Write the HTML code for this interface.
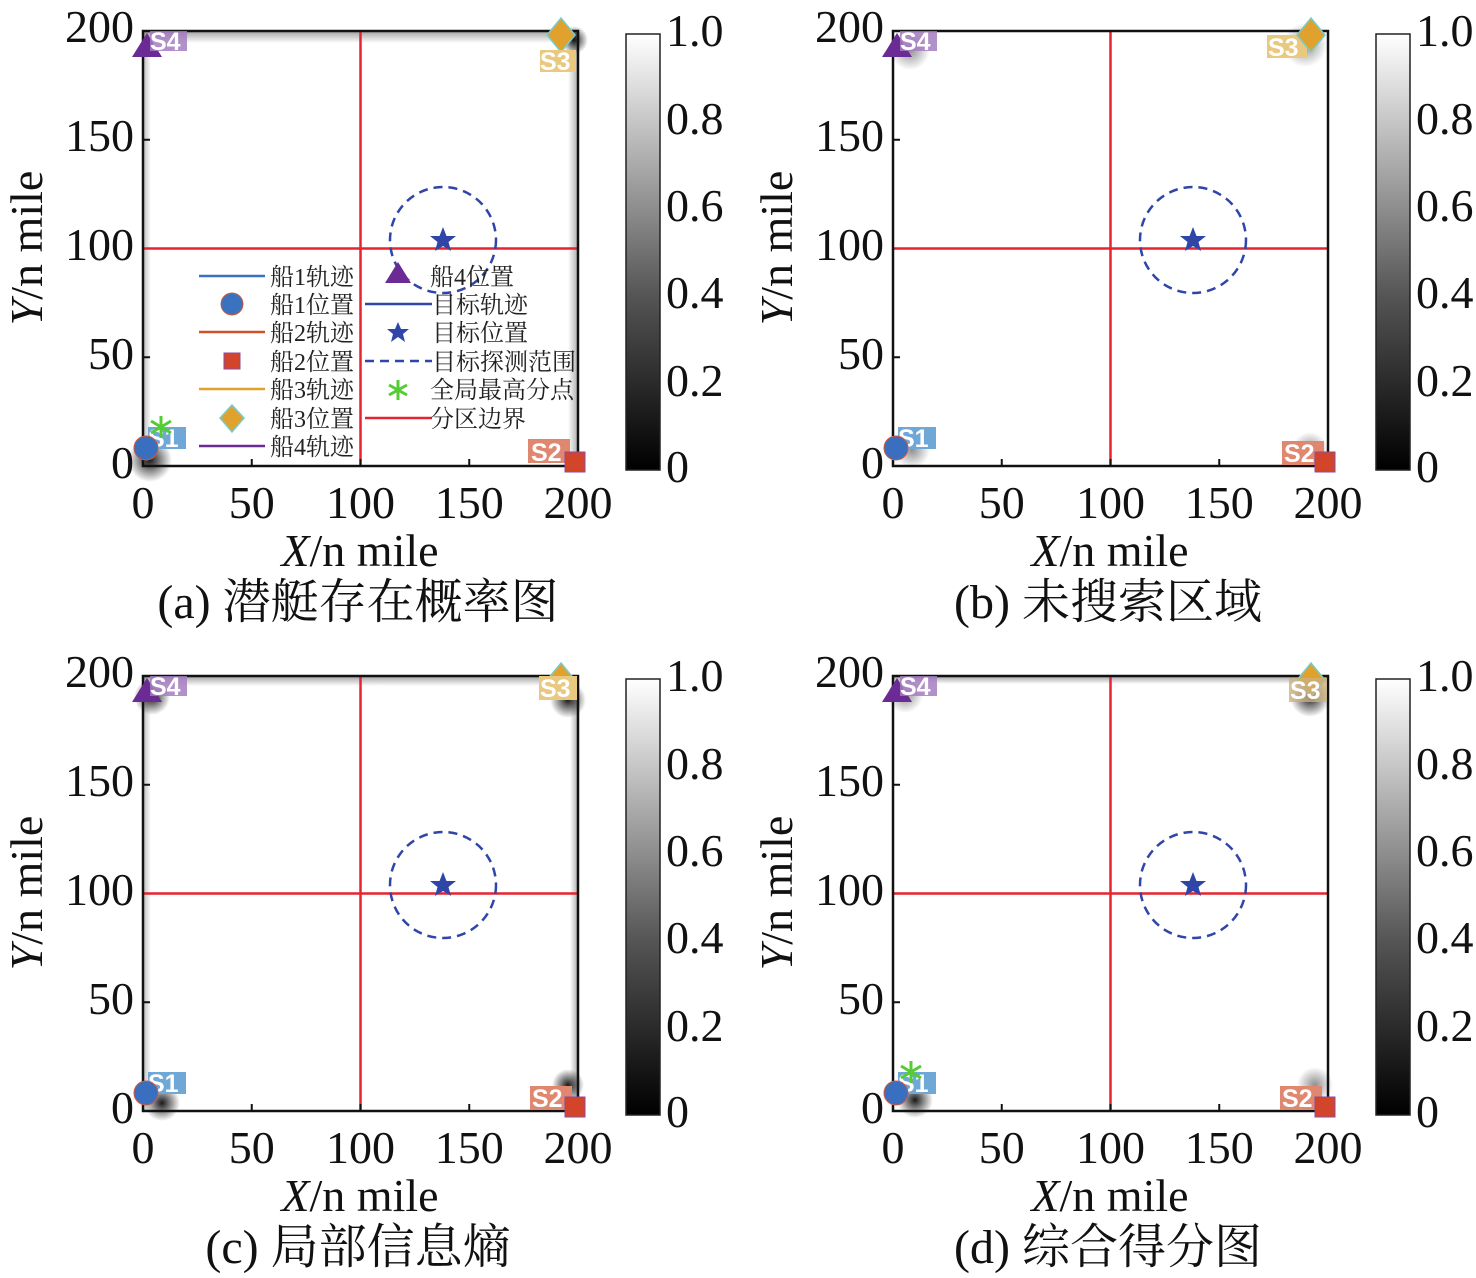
<!DOCTYPE html>
<html><head><meta charset="utf-8"><style>
html,body{margin:0;padding:0;background:#fff}
svg{display:block}
.t{font-family:"Liberation Serif","Noto Serif CJK SC",serif;fill:#111}
.cap{font-size:48px}
.lg{font-family:"Liberation Serif","Noto Serif CJK SC",serif;font-size:24px;fill:#222}
.lab{font-family:"Liberation Sans",sans-serif;font-weight:bold;font-size:25px;fill:#fff}
</style></head><body>
<svg width="1476" height="1278" viewBox="0 0 1476 1278" xmlns="http://www.w3.org/2000/svg">
<defs>
<linearGradient id="cb" x1="0" y1="1" x2="0" y2="0">
<stop offset="0" stop-color="#000"/><stop offset="0.4" stop-color="#555"/><stop offset="0.7" stop-color="#aaa"/><stop offset="1" stop-color="#fff"/></linearGradient>
<radialGradient id="dk"><stop offset="0" stop-color="#000" stop-opacity="0.9"/><stop offset="1" stop-color="#000" stop-opacity="0"/></radialGradient>
<radialGradient id="gy"><stop offset="0" stop-color="#444" stop-opacity="0.6"/><stop offset="1" stop-color="#444" stop-opacity="0"/></radialGradient>
<linearGradient id="et" x1="0" y1="0" x2="0" y2="1"><stop offset="0" stop-color="#777" stop-opacity=".7"/><stop offset="1" stop-color="#777" stop-opacity="0"/></linearGradient>
<linearGradient id="el" x1="0" y1="0" x2="1" y2="0"><stop offset="0" stop-color="#777" stop-opacity=".5"/><stop offset="1" stop-color="#777" stop-opacity="0"/></linearGradient>
<linearGradient id="er" x1="1" y1="0" x2="0" y2="0"><stop offset="0" stop-color="#777" stop-opacity=".6"/><stop offset="1" stop-color="#777" stop-opacity="0"/></linearGradient>
</defs>

<!-- ============ Panel A ============ -->
<g>
<rect x="143" y="31" width="435" height="435" fill="#fff"/>
<rect x="143" y="31" width="435" height="12" fill="url(#et)"/>
<rect x="143" y="31" width="8" height="435" fill="url(#el)"/>
<rect x="568" y="31" width="10" height="435" fill="url(#er)"/>
<circle cx="574" cy="40" r="14" fill="url(#dk)"/>
<circle cx="150" cy="460" r="22" fill="url(#dk)"/>
<line x1="360.5" y1="31" x2="360.5" y2="466" stroke="#e8232f" stroke-width="2.5"/>
<line x1="143" y1="248.5" x2="578" y2="248.5" stroke="#e8232f" stroke-width="2.5"/>
<circle cx="443" cy="240" r="53" fill="none" stroke="#2f45a8" stroke-width="2.5" stroke-dasharray="9,6"/>
<polygon points="443,227 446.5,236 456,236 448.5,242 451,251 443,246 435,251 437.5,242 430,236 439.5,236" fill="#2f45a8"/>
<rect x="143" y="31" width="435" height="435" fill="none" stroke="#111" stroke-width="2.5"/>
<g stroke="#111" stroke-width="2"><line x1="251.75" y1="466" x2="251.75" y2="459"/><line x1="360.5" y1="466" x2="360.5" y2="459"/><line x1="469.25" y1="466" x2="469.25" y2="459"/><line x1="143" y1="357.25" x2="150" y2="357.25"/><line x1="143" y1="139.75" x2="150" y2="139.75"/></g>
<polygon points="147,33 162,57 132,57" fill="#6b2a94"/>
<rect x="150" y="31" width="37" height="20" fill="#a57cc0" opacity=".85"/><text x="150" y="50" class="lab">S4</text>
<polygon points="561,18 575,35 561,52 547,35" fill="#e0a22c" stroke="#7cc" stroke-width="1.5"/>
<rect x="540" y="50" width="36" height="22" fill="#e9c880"/><text x="540" y="70" class="lab">S3</text>
<rect x="148" y="427" width="38" height="22" fill="#6fa7d6"/><text x="148" y="447" class="lab">S1</text>
<circle cx="146" cy="448" r="12" fill="#3a6fc0" stroke="#d05a3a" stroke-width="1"/>
<rect x="528" y="439" width="42" height="24" fill="#e08770"/><text x="531" y="461" class="lab">S2</text>
<rect x="565" y="452" width="20" height="20" fill="#d2452a" stroke="#8e4aa0" stroke-width="1"/>
<g stroke="#55cc33" stroke-width="3"><line x1="161" y1="416" x2="161" y2="438"/><line x1="151" y1="421" x2="171" y2="433"/><line x1="151" y1="433" x2="171" y2="421"/></g>
<g stroke-width="2.5">
<line x1="199" y1="276" x2="265" y2="276" stroke="#3a72c0"/>
<circle cx="232" cy="304" r="11" fill="#3a72c0" stroke="#d05a3a" stroke-width="1"/>
<line x1="199" y1="332" x2="265" y2="332" stroke="#d0502a"/>
<rect x="224" y="353" width="16" height="16" fill="#d2452a" stroke="#8e4aa0" stroke-width="1"/>
<line x1="199" y1="389" x2="265" y2="389" stroke="#e0a22c"/>
<polygon points="232,405 244,418 232,432 220,418" fill="#e0a22c" stroke="#7cc" stroke-width="1.5"/>
<line x1="199" y1="446" x2="265" y2="446" stroke="#6b2a94"/>
<polygon points="398,262 411,283 385,283" fill="#6b2a94"/>
<line x1="365" y1="304" x2="432" y2="304" stroke="#2f45a8"/>
<polygon points="398,322 401,329 409,329 403,334 405,342 398,337 391,342 393,334 387,329 395,329" fill="#2f45a8"/>
<line x1="365" y1="361" x2="432" y2="361" stroke="#2f45a8" stroke-dasharray="9,6"/>
<g stroke="#55cc33" stroke-width="3"><line x1="398" y1="380" x2="398" y2="400"/><line x1="389" y1="385" x2="407" y2="395"/><line x1="389" y1="395" x2="407" y2="385"/></g>
<line x1="365" y1="418" x2="432" y2="418" stroke="#e8232f"/>
</g>
<text class="lg" x="270" y="285">船1轨迹</text><text class="lg" x="270" y="313">船1位置</text>
<text class="lg" x="270" y="341">船2轨迹</text><text class="lg" x="270" y="370">船2位置</text>
<text class="lg" x="270" y="398">船3轨迹</text><text class="lg" x="270" y="427">船3位置</text>
<text class="lg" x="270" y="455">船4轨迹</text>
<text class="lg" x="430" y="285">船4位置</text><text class="lg" x="432" y="313">目标轨迹</text>
<text class="lg" x="432" y="341">目标位置</text><text class="lg" x="432" y="370">目标探测范围</text>
<text class="lg" x="430" y="398">全局最高分点</text><text class="lg" x="430" y="427">分区边界</text>
<g class="t" font-size="46">
<text x="143" y="518" text-anchor="middle">0</text><text x="251.75" y="518" text-anchor="middle">50</text><text x="360.5" y="518" text-anchor="middle">100</text><text x="469.25" y="518" text-anchor="middle">150</text><text x="578" y="518" text-anchor="middle">200</text>
<text x="134" y="478" text-anchor="end">0</text><text x="134" y="369" text-anchor="end">50</text><text x="134" y="260" text-anchor="end">100</text><text x="134" y="151" text-anchor="end">150</text><text x="134" y="42" text-anchor="end">200</text>
<text x="360" y="566" text-anchor="middle"><tspan font-style="italic">X</tspan>/n mile</text>
<text transform="translate(42,248) rotate(-90)" text-anchor="middle"><tspan font-style="italic">Y</tspan>/n mile</text>
<text class="cap" x="358" y="618" text-anchor="middle">(a) 潜艇存在概率图</text>
</g>
<rect x="626" y="34" width="34" height="436" fill="url(#cb)" stroke="#222" stroke-width="1.5"/>
<g class="t" font-size="46"><text x="666" y="46">1.0</text><text x="666" y="134">0.8</text><text x="666" y="221">0.6</text><text x="666" y="308">0.4</text><text x="666" y="396">0.2</text><text x="666" y="482">0</text></g>
</g>

<!-- ============ Panel B ============ -->
<g transform="translate(750,0)">
<rect x="143" y="31" width="435" height="435" fill="#fff"/>
<circle cx="160" cy="50" r="20" fill="url(#gy)"/>
<circle cx="555" cy="45" r="22" fill="url(#gy)"/>
<circle cx="162" cy="450" r="18" fill="url(#gy)"/>
<circle cx="560" cy="450" r="18" fill="url(#gy)"/>
<line x1="360.5" y1="31" x2="360.5" y2="466" stroke="#e8232f" stroke-width="2.5"/>
<line x1="143" y1="248.5" x2="578" y2="248.5" stroke="#e8232f" stroke-width="2.5"/>
<circle cx="443" cy="240" r="53" fill="none" stroke="#2f45a8" stroke-width="2.5" stroke-dasharray="9,6"/>
<polygon points="443,227 446.5,236 456,236 448.5,242 451,251 443,246 435,251 437.5,242 430,236 439.5,236" fill="#2f45a8"/>
<rect x="143" y="31" width="435" height="435" fill="none" stroke="#111" stroke-width="2.5"/>
<g stroke="#111" stroke-width="2"><line x1="251.75" y1="466" x2="251.75" y2="459"/><line x1="360.5" y1="466" x2="360.5" y2="459"/><line x1="469.25" y1="466" x2="469.25" y2="459"/><line x1="143" y1="357.25" x2="150" y2="357.25"/><line x1="143" y1="139.75" x2="150" y2="139.75"/></g>
<polygon points="147,33 162,57 132,57" fill="#6b2a94"/>
<rect x="150" y="31" width="37" height="20" fill="#a57cc0" opacity=".85"/><text x="150" y="50" class="lab">S4</text>
<rect x="517" y="35" width="40" height="23" fill="#e9c880"/><text x="518" y="56" class="lab">S3</text>
<polygon points="561,18 575,35 561,52 547,35" fill="#e0a22c" stroke="#7cc" stroke-width="1.5"/>
<rect x="148" y="427" width="38" height="22" fill="#6fa7d6"/><text x="148" y="447" class="lab">S1</text>
<circle cx="146" cy="448" r="12" fill="#3a6fc0" stroke="#d05a3a" stroke-width="1"/>
<rect x="532" y="441" width="42" height="24" fill="#e08770"/><text x="534" y="462" class="lab">S2</text>
<rect x="565" y="452" width="20" height="20" fill="#d2452a" stroke="#8e4aa0" stroke-width="1"/>
<g class="t" font-size="46">
<text x="143" y="518" text-anchor="middle">0</text><text x="251.75" y="518" text-anchor="middle">50</text><text x="360.5" y="518" text-anchor="middle">100</text><text x="469.25" y="518" text-anchor="middle">150</text><text x="578" y="518" text-anchor="middle">200</text>
<text x="134" y="478" text-anchor="end">0</text><text x="134" y="369" text-anchor="end">50</text><text x="134" y="260" text-anchor="end">100</text><text x="134" y="151" text-anchor="end">150</text><text x="134" y="42" text-anchor="end">200</text>
<text x="360" y="566" text-anchor="middle"><tspan font-style="italic">X</tspan>/n mile</text>
<text transform="translate(42,248) rotate(-90)" text-anchor="middle"><tspan font-style="italic">Y</tspan>/n mile</text>
<text class="cap" x="358" y="618" text-anchor="middle">(b) 未搜索区域</text>
</g>
<rect x="626" y="34" width="34" height="436" fill="url(#cb)" stroke="#222" stroke-width="1.5"/>
<g class="t" font-size="46"><text x="666" y="46">1.0</text><text x="666" y="134">0.8</text><text x="666" y="221">0.6</text><text x="666" y="308">0.4</text><text x="666" y="396">0.2</text><text x="666" y="482">0</text></g>
</g>

<!-- ============ Panel C ============ -->
<g transform="translate(0,645)">
<rect x="143" y="31" width="435" height="435" fill="#fff"/>
<rect x="143" y="31" width="435" height="10" fill="url(#et)"/>
<rect x="143" y="31" width="8" height="435" fill="url(#el)"/>
<rect x="570" y="31" width="8" height="435" fill="url(#er)"/>
<circle cx="152" cy="52" r="18" fill="url(#dk)"/>
<circle cx="568" cy="55" r="18" fill="url(#dk)"/>
<circle cx="162" cy="458" r="18" fill="url(#dk)"/>
<circle cx="568" cy="440" r="16" fill="url(#dk)"/>
<line x1="360.5" y1="31" x2="360.5" y2="466" stroke="#e8232f" stroke-width="2.5"/>
<line x1="143" y1="248.5" x2="578" y2="248.5" stroke="#e8232f" stroke-width="2.5"/>
<circle cx="443" cy="240" r="53" fill="none" stroke="#2f45a8" stroke-width="2.5" stroke-dasharray="9,6"/>
<polygon points="443,227 446.5,236 456,236 448.5,242 451,251 443,246 435,251 437.5,242 430,236 439.5,236" fill="#2f45a8"/>
<rect x="143" y="31" width="435" height="435" fill="none" stroke="#111" stroke-width="2.5"/>
<g stroke="#111" stroke-width="2"><line x1="251.75" y1="466" x2="251.75" y2="459"/><line x1="360.5" y1="466" x2="360.5" y2="459"/><line x1="469.25" y1="466" x2="469.25" y2="459"/><line x1="143" y1="357.25" x2="150" y2="357.25"/><line x1="143" y1="139.75" x2="150" y2="139.75"/></g>
<polygon points="147,33 162,57 132,57" fill="#6b2a94"/>
<rect x="150" y="31" width="37" height="20" fill="#a57cc0" opacity=".85"/><text x="150" y="50" class="lab">S4</text>
<polygon points="561,18 575,35 561,52 547,35" fill="#e0a22c" stroke="#7cc" stroke-width="1.5"/>
<rect x="539" y="31" width="38" height="24" fill="#e9c880"/><text x="540" y="52" class="lab">S3</text>
<rect x="148" y="427" width="38" height="22" fill="#6fa7d6"/><text x="148" y="447" class="lab">S1</text>
<circle cx="146" cy="448" r="12" fill="#3a6fc0" stroke="#d05a3a" stroke-width="1"/>
<rect x="530" y="441" width="42" height="24" fill="#e08770"/><text x="532" y="462" class="lab">S2</text>
<rect x="565" y="452" width="20" height="20" fill="#d2452a" stroke="#8e4aa0" stroke-width="1"/>
<g class="t" font-size="46">
<text x="143" y="518" text-anchor="middle">0</text><text x="251.75" y="518" text-anchor="middle">50</text><text x="360.5" y="518" text-anchor="middle">100</text><text x="469.25" y="518" text-anchor="middle">150</text><text x="578" y="518" text-anchor="middle">200</text>
<text x="134" y="478" text-anchor="end">0</text><text x="134" y="369" text-anchor="end">50</text><text x="134" y="260" text-anchor="end">100</text><text x="134" y="151" text-anchor="end">150</text><text x="134" y="42" text-anchor="end">200</text>
<text x="360" y="566" text-anchor="middle"><tspan font-style="italic">X</tspan>/n mile</text>
<text transform="translate(42,248) rotate(-90)" text-anchor="middle"><tspan font-style="italic">Y</tspan>/n mile</text>
<text class="cap" x="358" y="618" text-anchor="middle">(c) 局部信息熵</text>
</g>
<rect x="626" y="34" width="34" height="436" fill="url(#cb)" stroke="#222" stroke-width="1.5"/>
<g class="t" font-size="46"><text x="666" y="46">1.0</text><text x="666" y="134">0.8</text><text x="666" y="221">0.6</text><text x="666" y="308">0.4</text><text x="666" y="396">0.2</text><text x="666" y="482">0</text></g>
</g>

<!-- ============ Panel D ============ -->
<g transform="translate(750,645)">
<rect x="143" y="31" width="435" height="435" fill="#fff"/>
<rect x="143" y="31" width="435" height="8" fill="url(#et)"/>
<circle cx="155" cy="50" r="18" fill="url(#gy)"/>
<circle cx="560" cy="52" r="20" fill="url(#dk)"/>
<circle cx="165" cy="455" r="18" fill="url(#dk)"/>
<circle cx="565" cy="440" r="18" fill="url(#gy)"/>
<line x1="360.5" y1="31" x2="360.5" y2="466" stroke="#e8232f" stroke-width="2.5"/>
<line x1="143" y1="248.5" x2="578" y2="248.5" stroke="#e8232f" stroke-width="2.5"/>
<circle cx="443" cy="240" r="53" fill="none" stroke="#2f45a8" stroke-width="2.5" stroke-dasharray="9,6"/>
<polygon points="443,227 446.5,236 456,236 448.5,242 451,251 443,246 435,251 437.5,242 430,236 439.5,236" fill="#2f45a8"/>
<rect x="143" y="31" width="435" height="435" fill="none" stroke="#111" stroke-width="2.5"/>
<g stroke="#111" stroke-width="2"><line x1="251.75" y1="466" x2="251.75" y2="459"/><line x1="360.5" y1="466" x2="360.5" y2="459"/><line x1="469.25" y1="466" x2="469.25" y2="459"/><line x1="143" y1="357.25" x2="150" y2="357.25"/><line x1="143" y1="139.75" x2="150" y2="139.75"/></g>
<polygon points="147,33 162,57 132,57" fill="#6b2a94"/>
<rect x="150" y="31" width="37" height="20" fill="#a57cc0" opacity=".85"/><text x="150" y="50" class="lab">S4</text>
<polygon points="561,18 575,35 561,52 547,35" fill="#e0a22c" stroke="#7cc" stroke-width="1.5"/>
<rect x="539" y="33" width="38" height="24" fill="#c9b080" opacity=".8"/><text x="540" y="54" class="lab">S3</text>
<rect x="148" y="427" width="38" height="22" fill="#6fa7d6"/><text x="148" y="447" class="lab">S1</text>
<circle cx="146" cy="448" r="12" fill="#3a6fc0" stroke="#d05a3a" stroke-width="1"/>
<g stroke="#55cc33" stroke-width="3"><line x1="161" y1="416" x2="161" y2="438"/><line x1="151" y1="421" x2="171" y2="433"/><line x1="151" y1="433" x2="171" y2="421"/></g>
<rect x="530" y="441" width="42" height="24" fill="#e08770"/><text x="532" y="462" class="lab">S2</text>
<rect x="565" y="452" width="20" height="20" fill="#d2452a" stroke="#8e4aa0" stroke-width="1"/>
<g class="t" font-size="46">
<text x="143" y="518" text-anchor="middle">0</text><text x="251.75" y="518" text-anchor="middle">50</text><text x="360.5" y="518" text-anchor="middle">100</text><text x="469.25" y="518" text-anchor="middle">150</text><text x="578" y="518" text-anchor="middle">200</text>
<text x="134" y="478" text-anchor="end">0</text><text x="134" y="369" text-anchor="end">50</text><text x="134" y="260" text-anchor="end">100</text><text x="134" y="151" text-anchor="end">150</text><text x="134" y="42" text-anchor="end">200</text>
<text x="360" y="566" text-anchor="middle"><tspan font-style="italic">X</tspan>/n mile</text>
<text transform="translate(42,248) rotate(-90)" text-anchor="middle"><tspan font-style="italic">Y</tspan>/n mile</text>
<text class="cap" x="358" y="618" text-anchor="middle">(d) 综合得分图</text>
</g>
<rect x="626" y="34" width="34" height="436" fill="url(#cb)" stroke="#222" stroke-width="1.5"/>
<g class="t" font-size="46"><text x="666" y="46">1.0</text><text x="666" y="134">0.8</text><text x="666" y="221">0.6</text><text x="666" y="308">0.4</text><text x="666" y="396">0.2</text><text x="666" y="482">0</text></g>
</g>
</svg>
</body></html>
